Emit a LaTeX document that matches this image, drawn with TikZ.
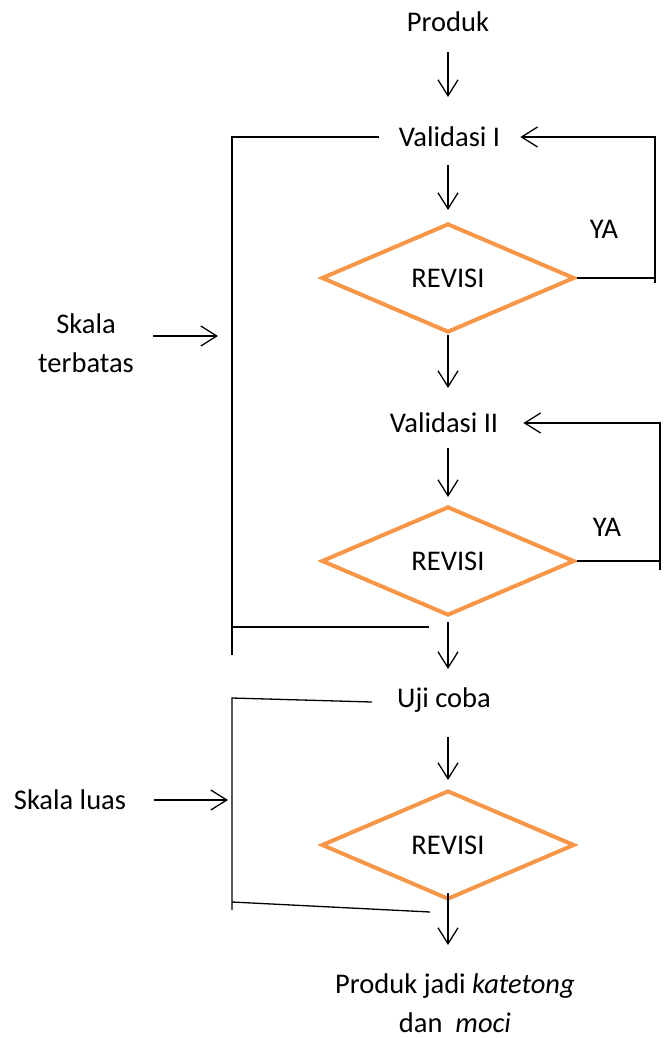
\documentclass[tikz,border=0pt]{standalone}
\usepackage{fontspec}
\setmainfont{Carlito}
\usetikzlibrary{arrows.meta,shapes.geometric}
\definecolor{revorange}{RGB}{247,150,70}
\begin{document}
\begin{tikzpicture}[x=1pt,y=-1pt,
  txt/.style={inner sep=0pt, font=\fontsize{28.5}{39.5}\selectfont},
  dec/.style={diamond, draw=revorange, line width=4pt, aspect=2.32,
    minimum width=253pt, minimum height=109pt, inner sep=0pt,
    font=\fontsize{28.5}{34}\selectfont},
  ln/.style={line width=1.3pt},
  arr/.style={ln, -{Straight Barb[length=16pt,width=20pt,line width=1.3pt]}}]
\useasboundingbox (0,0) rectangle (665,1038);

% nodes
\node[txt] (produk) at (448,22) {Produk};
\node[txt] (val1) at (449.5,137) {Validasi I};
\node[dec] (d1) at (448,278) {REVISI};
\node[txt] (val2) at (444,423) {Validasi II};
\node[dec] (d2) at (448,561) {REVISI};
\node[txt] (uji) at (444,700) {Uji coba};
\node[dec] (d3) at (448,845) {REVISI};
\node[txt, align=center] (out) at (455,1003) {Produk jadi \textit{katetong}\\dan\ \ \textit{moci}};
\node[txt] (ya1) at (604,229) {YA};
\node[txt] (ya2) at (607,527) {YA};
\node[txt, align=center] (skala1) at (86,343) {Skala\\terbatas};
\node[txt] (skala2) at (70,800) {Skala luas};

% coordinates
\coordinate (r1) at (655,137);
\coordinate (r2) at (660,423);
\coordinate (b1t) at (232,137);
\coordinate (b1b) at (232,655);
\coordinate (b1e) at (232,627);
\coordinate (b1m) at (232,336);
\coordinate (b1l) at (429,627);
\coordinate (b2t) at (232,698);
\coordinate (b2b) at (232,910);
\coordinate (b2e) at (232,902);
\coordinate (b2m) at (232,800);
\coordinate (b2l) at (430,912);
\coordinate (b2r) at (372,702);

% main column
\draw[arr, shorten <=30pt, shorten >=40pt] (produk.center) -- (produk.center |- val1.center);
\draw[arr, shorten <=28pt, shorten >=68pt] (d1.center |- val1.center) -- (d1.center);
\draw[arr, shorten <=57pt, shorten >=35pt] (d1.center) -- (d1.center |- val2.center);
\draw[arr, shorten <=25pt, shorten >=64pt] (d2.center |- val2.center) -- (d2.center);
\draw[arr, shorten <=61pt, shorten >=31pt] (d2.center) -- (d2.center |- uji.center);
\draw[arr, shorten <=37pt, shorten >=65pt] (d3.center |- uji.center) -- (d3.center);
\draw[arr, shorten <=48pt, shorten >=58pt] (d3.center) -- (d3.center |- out.center);

% loops
\draw[arr, shorten >=20pt] (d1.east) -| (r1) -- (val1.east);
\draw[ln] (r1) -- ++(0,146);
\draw[arr, shorten >=25pt] (d2.east) -| (r2) -- (val2.east);
\draw[ln] (r2) -- ++(0,147);

% bracket 1
\draw[ln, shorten <=20pt] (val1.west) -- (b1t) -- (b1b);
\draw[ln] (b1e) -- (b1l);
\draw[arr, shorten <=19pt, shorten >=14pt] (skala1.east |- b1m) -- (b1m);

% bracket 2
\draw[ln] (b2r) -- (b2t) -- (b2b);
\draw[ln] (b2e) -- (b2l);
\draw[arr, shorten <=28pt, shorten >=4pt] (skala2.east |- b2m) -- (b2m);
\end{tikzpicture}
\end{document}
